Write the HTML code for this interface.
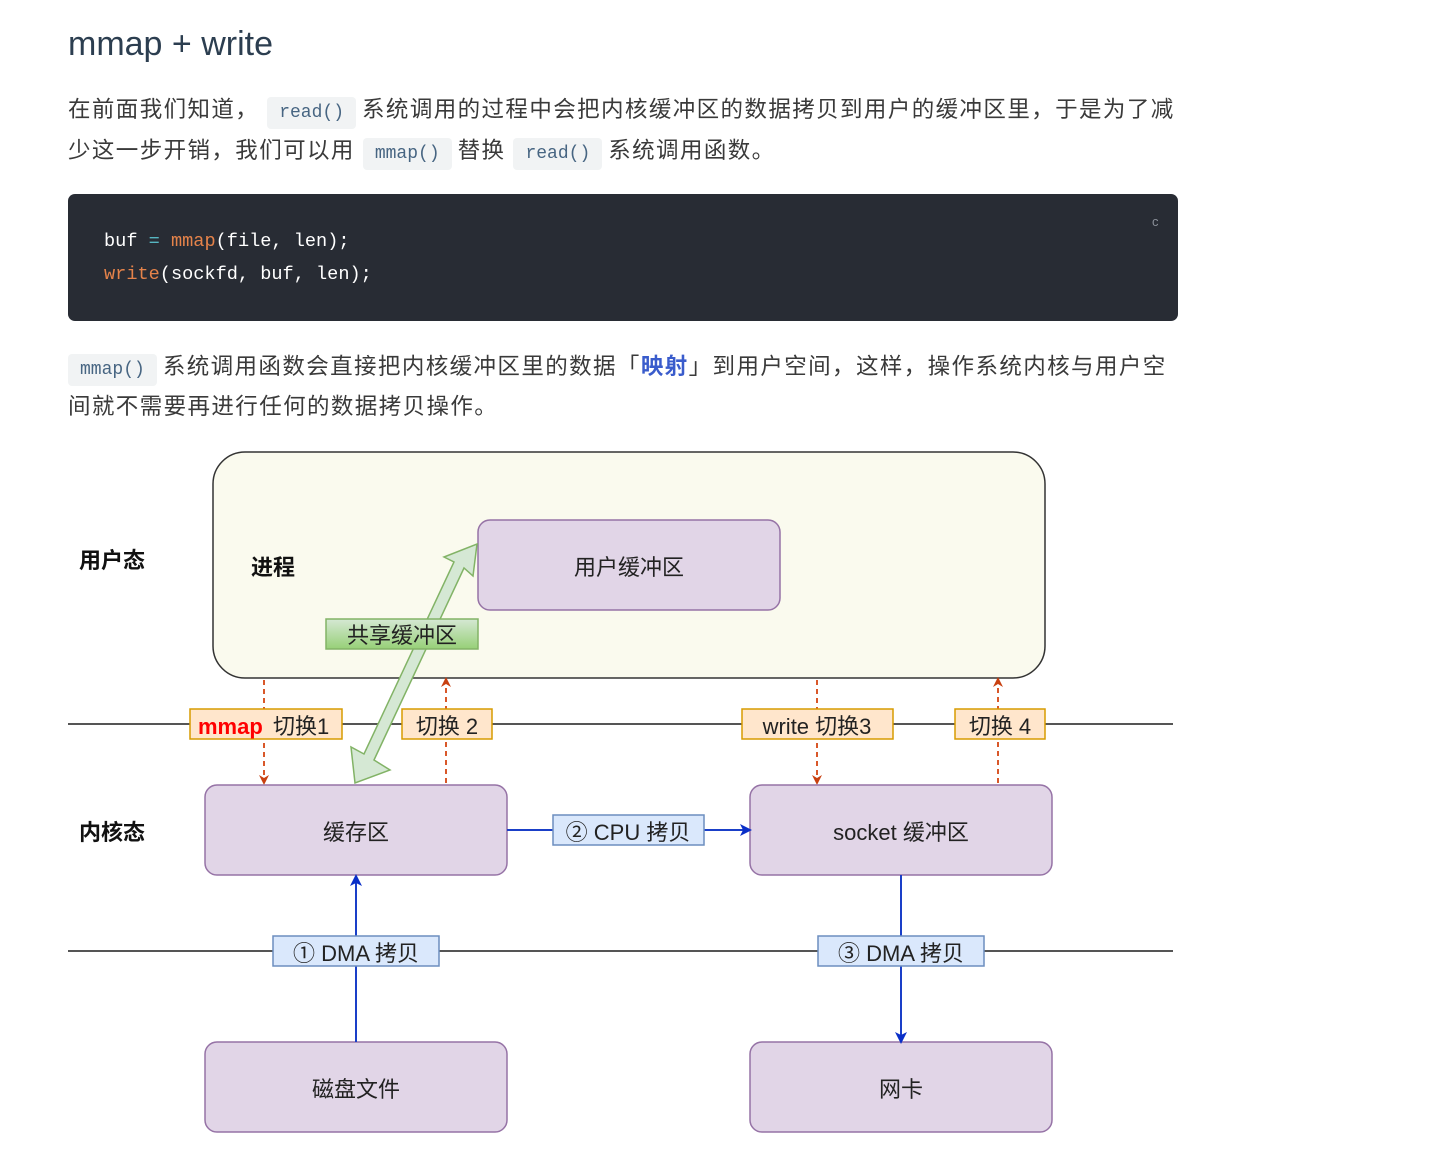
<!DOCTYPE html>
<html><head><meta charset="utf-8">
<style>
html,body{margin:0;padding:0;background:#fff;width:1429px;height:1161px;overflow:hidden;position:relative;font-family:"Liberation Sans","Noto Sans CJK SC",sans-serif;color:#2c3e50}
.a{position:absolute;white-space:nowrap}
.p{font-size:22.5px;color:#3a3a3a;line-height:30px;letter-spacing:1.4px}
code{font-family:"Liberation Mono","DejaVu Sans Mono",monospace;font-size:18px;background:#f1f3f4;color:#476582;padding:6px 12px;border-radius:4px;margin:0 6px 0 8px;letter-spacing:0}
.code{font-family:"Liberation Mono","DejaVu Sans Mono",monospace;font-size:18.6px;color:#fff}
.o{color:#e5834a}.c{color:#56b6c2}
svg text{font-family:"Liberation Sans","Noto Sans CJK SC",sans-serif}
</style></head><body>
<div class="a" style="left:68px;top:25px;font-size:34px;font-weight:500;color:#2c3e50">mmap + write</div>
<div class="a p" style="left:68px;top:95px">在前面我们知道，<code>read()</code>系统调用的过程中会把内核缓冲区的数据拷贝到用户的缓冲区里，于是为了减</div>
<div class="a p" style="left:68px;top:136px">少这一步开销，我们可以用<code>mmap()</code>替换<code>read()</code>系统调用函数。</div>
<div class="a" style="left:68px;top:194px;width:1110px;height:127px;background:#282c34;border-radius:7px"></div>
<div class="a" style="left:1152px;top:214px;color:#8a8f98;font-size:13px">c</div>
<div class="a code" style="left:104px;top:231px">buf <span class="c">=</span> <span class="o">mmap</span>(file, len);</div>
<div class="a code" style="left:104px;top:264px"><span class="o">write</span>(sockfd, buf, len);</div>
<div class="a p" style="left:60px;top:352px"><code>mmap()</code>系统调用函数会直接把内核缓冲区里的数据「<b style="color:#3a5ccc">映射</b>」到用户空间，这样，操作系统内核与用户空</div>
<div class="a p" style="left:68px;top:392px">间就不需要再进行任何的数据拷贝操作。</div>

<svg class="a" style="left:0;top:0" width="1429" height="1161">
<defs>
<marker id="ro" markerWidth="10" markerHeight="10" refX="5" refY="5" orient="auto" markerUnits="userSpaceOnUse"><path d="M0,0 L10,5 L0,10 L3,5Z" fill="#c84010"/></marker>
<marker id="bl" markerWidth="12" markerHeight="12" refX="6" refY="6" orient="auto" markerUnits="userSpaceOnUse"><path d="M0,0 L12,6 L0,12 L3,6Z" fill="#0a2fc8"/></marker>
<linearGradient id="g" x1="0" y1="0" x2="0" y2="1"><stop offset="0" stop-color="#d5e8d4"/><stop offset="1" stop-color="#97d077"/></linearGradient>
</defs>
<rect x="213" y="452" width="832" height="226" rx="32" fill="#fafaee" stroke="#333" stroke-width="1.5"/>
<text x="79" y="568" font-size="22" font-weight="bold" fill="#111">用户态</text>
<text x="251" y="575" font-size="22" font-weight="bold" fill="#111">进程</text>
<rect x="478" y="520" width="302" height="90" rx="12" fill="#e1d5e7" stroke="#9673a6" stroke-width="1.5"/>
<text x="629" y="575" font-size="22" text-anchor="middle" fill="#222">用户缓冲区</text>
<line x1="68" y1="724" x2="1173" y2="724" stroke="#555" stroke-width="2"/>
<line x1="68" y1="951" x2="1173" y2="951" stroke="#555" stroke-width="2"/>
<path d="M477,544 L473,576 L464,568 L374,760 L390,770 L355,783 L351,747 L364,754 L454,562 L444,557 Z" fill="#d5e8d4" stroke="#82b366" stroke-width="1.5"/>
<rect x="326" y="619" width="152" height="30" fill="url(#g)" stroke="#82b366" stroke-width="1.5"/>
<text x="402" y="643" font-size="22" text-anchor="middle" fill="#222">共享缓冲区</text>
<g stroke="#d9582a" stroke-width="2" stroke-dasharray="5,4" fill="none">
<line x1="264" y1="680" x2="264" y2="780" marker-end="url(#ro)"/>
<line x1="446" y1="783" x2="446" y2="682" marker-end="url(#ro)"/>
<line x1="817" y1="680" x2="817" y2="780" marker-end="url(#ro)"/>
<line x1="998" y1="783" x2="998" y2="682" marker-end="url(#ro)"/>
</g>
<g fill="#ffe6cc" stroke="#d79b00" stroke-width="1.5">
<rect x="190" y="709" width="152" height="30"/><rect x="402" y="709" width="90" height="30"/>
<rect x="742" y="709" width="151" height="30"/><rect x="955" y="709" width="90" height="30"/>
</g>
<text x="198" y="734" font-size="22" font-weight="bold" fill="#f00">mmap</text>
<text x="273" y="734" font-size="22" fill="#222">切换1</text>
<text x="447" y="734" font-size="22" text-anchor="middle" fill="#222">切换 2</text>
<text x="817" y="734" font-size="22" text-anchor="middle" fill="#222">write 切换3</text>
<text x="1000" y="734" font-size="22" text-anchor="middle" fill="#222">切换 4</text>
<text x="79" y="840" font-size="22" font-weight="bold" fill="#111">内核态</text>
<g fill="#e1d5e7" stroke="#9673a6" stroke-width="1.5">
<rect x="205" y="785" width="302" height="90" rx="12"/><rect x="750" y="785" width="302" height="90" rx="12"/>
<rect x="205" y="1042" width="302" height="90" rx="12"/><rect x="750" y="1042" width="302" height="90" rx="12"/>
</g>
<text x="356" y="840" font-size="22" text-anchor="middle" fill="#222">缓存区</text>
<text x="901" y="840" font-size="22" text-anchor="middle" fill="#222">socket 缓冲区</text>
<text x="356" y="1097" font-size="22" text-anchor="middle" fill="#222">磁盘文件</text>
<text x="901" y="1097" font-size="22" text-anchor="middle" fill="#222">网卡</text>
<g stroke="#1a3fc8" stroke-width="2" fill="none">
<line x1="507" y1="830" x2="746" y2="830" marker-end="url(#bl)"/>
<line x1="356" y1="1042" x2="356" y2="880" marker-end="url(#bl)"/>
<line x1="901" y1="875" x2="901" y2="1038" marker-end="url(#bl)"/>
</g>
<g fill="#dae8fc" stroke="#6c8ebf" stroke-width="1.5">
<rect x="553" y="815" width="151" height="30"/><rect x="273" y="936" width="166" height="30"/><rect x="818" y="936" width="166" height="30"/>
</g>
<text x="628" y="840" font-size="22" text-anchor="middle" fill="#222">② CPU 拷贝</text>
<text x="356" y="961" font-size="22" text-anchor="middle" fill="#222">① DMA 拷贝</text>
<text x="901" y="961" font-size="22" text-anchor="middle" fill="#222">③ DMA 拷贝</text>
</svg>
</body></html>
